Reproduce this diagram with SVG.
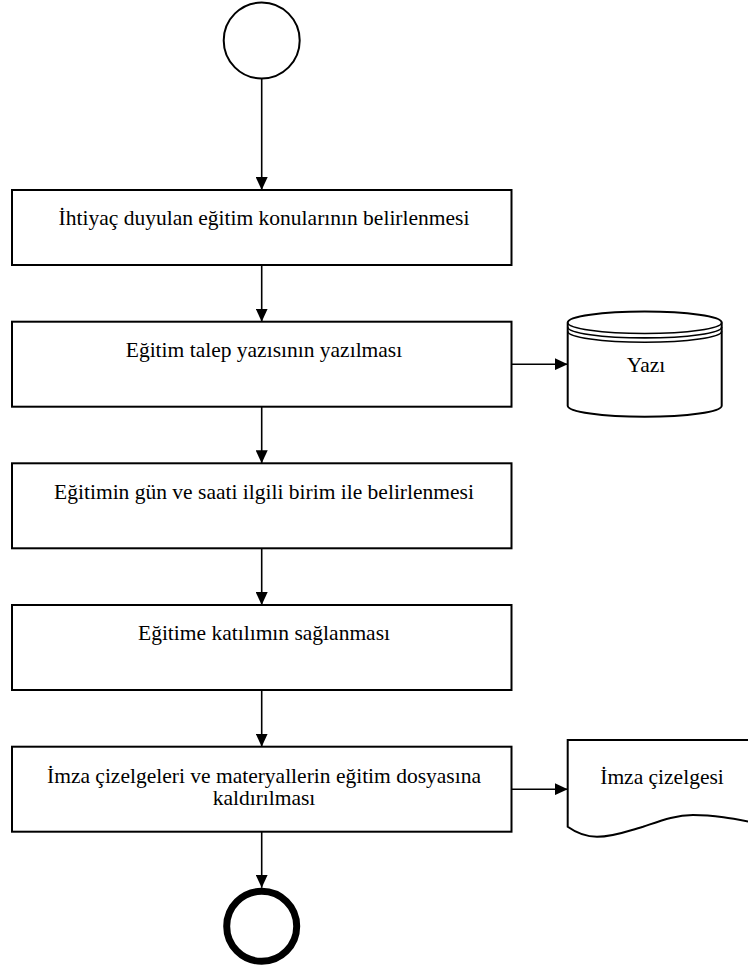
<svg xmlns="http://www.w3.org/2000/svg" width="748" height="969" viewBox="0 0 748 969">
<defs>
<marker id="arr" markerUnits="userSpaceOnUse" markerWidth="13" markerHeight="12" refX="13" refY="6" orient="auto">
<path d="M0,0 L13,6 L0,12 z" fill="#000"/>
</marker>
<style>
.box{fill:#fff;stroke:#000;stroke-width:2}
.shp{fill:#fff;stroke:#000;stroke-width:2}
.ln{fill:none;stroke:#000;stroke-width:1.6}
.t{font-family:"Liberation Serif","Times New Roman",serif;font-size:21.5px;fill:#000;text-anchor:middle}
</style>
</defs>
<rect width="748" height="969" fill="#fff"/>
<g id="connectors">
<line class="ln" x1="261.7" y1="78.5" x2="261.7" y2="190" marker-end="url(#arr)"/>
<line class="ln" x1="261.7" y1="265" x2="261.7" y2="321.7" marker-end="url(#arr)"/>
<line class="ln" x1="261.7" y1="406.7" x2="261.7" y2="463.3" marker-end="url(#arr)"/>
<line class="ln" x1="261.7" y1="548.3" x2="261.7" y2="605" marker-end="url(#arr)"/>
<line class="ln" x1="261.7" y1="690" x2="261.7" y2="746.7" marker-end="url(#arr)"/>
<line class="ln" x1="261.7" y1="831.7" x2="261.7" y2="887.8" marker-end="url(#arr)"/>
<line class="ln" x1="511.5" y1="364.2" x2="567.7" y2="364.2" marker-end="url(#arr)"/>
<line class="ln" x1="511.5" y1="789.2" x2="567.7" y2="789.2" marker-end="url(#arr)"/>
</g>
<g id="start">
<circle cx="261.7" cy="40.5" r="38" fill="#fff" stroke="#000" stroke-width="2"/>
</g>
<g id="n1">
<rect class="box" x="12" y="190" width="499.5" height="75"/>
<text class="t" x="264" y="225">İhtiyaç duyulan eğitim konularının belirlenmesi</text>
</g>
<g id="n2">
<rect class="box" x="12" y="321.7" width="499.5" height="85"/>
<text class="t" x="264" y="357">Eğitim talep yazısının yazılması</text>
</g>
<g id="n3">
<rect class="box" x="12" y="463.3" width="499.5" height="85"/>
<text class="t" x="264" y="498.5">Eğitimin gün ve saati ilgili birim ile belirlenmesi</text>
</g>
<g id="n4">
<rect class="box" x="12" y="605" width="499.5" height="85"/>
<text class="t" x="264" y="640">Eğitime katılımın sağlanması</text>
</g>
<g id="n5">
<rect class="box" x="12" y="746.7" width="499.5" height="85"/>
<text class="t" x="264" y="783">İmza çizelgeleri ve materyallerin eğitim dosyasına</text>
<text class="t" x="264" y="805">kaldırılması</text>
</g>
<g id="db">
<path class="shp" d="M567.7,322.5 V405.7 A77,11 0 0 0 721.7,405.7 V322.5 A77,11 0 0 0 567.7,322.5 Z"/>
<path class="ln" stroke-width="2" d="M567.7,322.5 A77,11 0 0 0 721.7,322.5"/>
<path class="ln" stroke-width="2" d="M567.7,326.9 A77,11 0 0 0 721.7,326.9"/>
<path class="ln" stroke-width="2" d="M567.7,331.3 A77,11 0 0 0 721.7,331.3"/>
<text class="t" x="646" y="371.5">Yazı</text>
</g>
<g id="doc">
<path class="shp" d="M567.7,740 H762 V824 C735,819 715,815 693,815 C675,815 660,821 643,826.7 C627,831 615,836.7 597,836.7 C587,836.7 578,834 567.7,826.7 Z"/>
<text class="t" x="662" y="784">İmza çizelgesi</text>
</g>
<g id="end">
<circle cx="261.7" cy="926.3" r="35" fill="#fff" stroke="#000" stroke-width="7"/>
</g>
</svg>
